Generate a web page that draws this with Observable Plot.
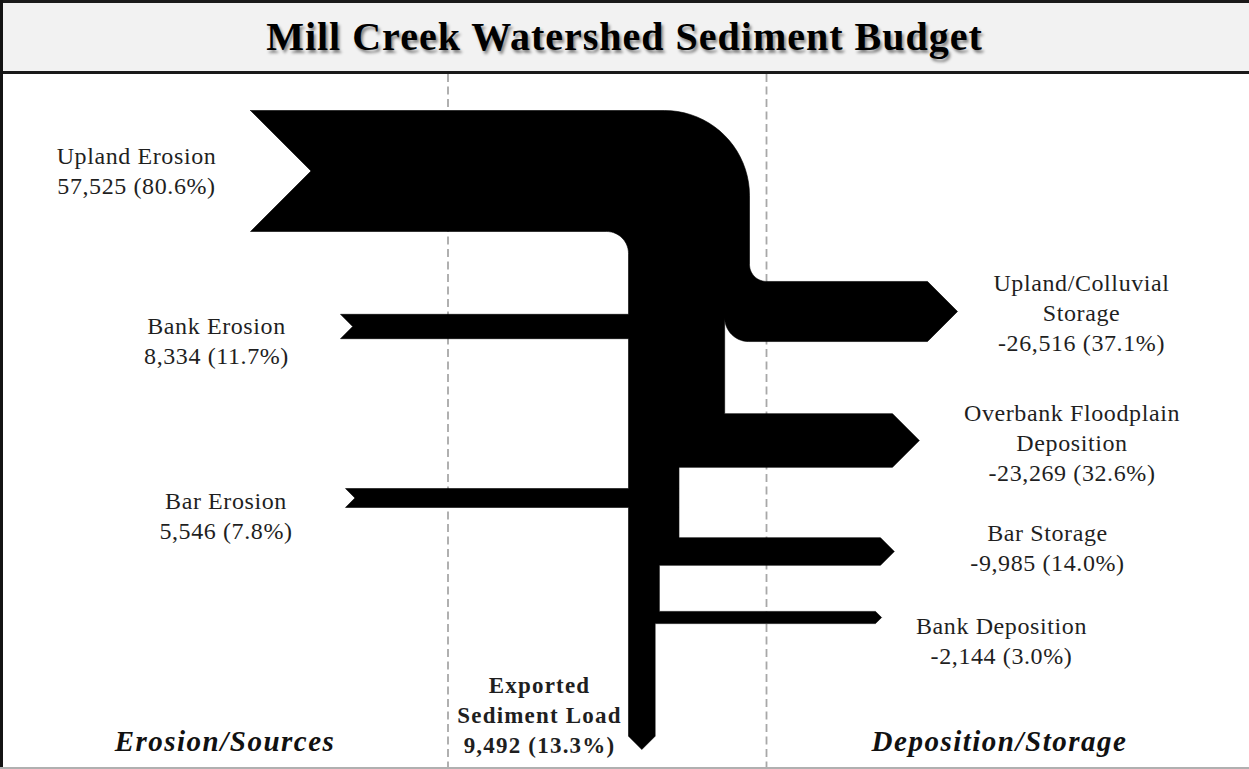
<!DOCTYPE html>
<html>
<head>
<meta charset="utf-8">
<script src="https://cdn.jsdelivr.net/npm/d3@7"></script>
<script src="https://cdn.jsdelivr.net/npm/@observablehq/plot@0.6"></script>
<style>
  html, body { margin: 0; padding: 0; background: #fff; }
  #page { position: relative; width: 1249px; height: 769px; overflow: hidden;
          font-family: "Liberation Serif", "Times New Roman", serif; }
  #title { box-sizing: border-box; height: 74px; border-top: 3px solid #1a1a1a; border-bottom: 3px solid #1a1a1a;
           background: #f2f2f2; text-align: center; line-height: 68px; font-size: 40px; font-weight: bold;
           letter-spacing: 1px; color: #000; white-space: nowrap;
           text-shadow: 2px 3px 3px rgba(0,0,0,0.45); }
  #chart svg { display: block; }
  #leftEdge { position: absolute; left: 0; top: 0; width: 3px; height: 769px; background: #141414; }
  #bottomEdge { position: absolute; left: 0; top: 767px; width: 1249px; height: 2px; background: #b0b0b0; }
</style>
</head>
<body>
<div id="page">
  <div id="title"></div>
  <div id="chart"></div>
  <div id="leftEdge"></div>
  <div id="bottomEdge"></div>
</div>
<script>
// ---------------- data ----------------
const chartTitle = "Mill Creek Watershed Sediment Budget";
const sourceNames = ["Upland Erosion", "Bank Erosion", "Bar Erosion"];
const sourceValues = [57525, 8334, 5546];
const sourceShares = ["80.6%", "11.7%", "7.8%"];
const sinkNames = ["Upland/Colluvial\nStorage", "Overbank Floodplain\nDeposition", "Bar Storage", "Bank Deposition"];
const sinkValues = [26516, 23269, 9985, 2144];
const sinkShares = ["37.1%", "32.6%", "14.0%", "3.0%"];
const exportName = "Exported\nSediment Load";
const exportValue = 9492;
const exportShare = "13.3%";
const zoneNames = ["Erosion/Sources", "Deposition/Storage"];

// ---------------- layout (diagram geometry, page units) ----------------
const W = 1249, TOP = 74, BOTTOM = 768;
const layout = {
  trunkX: 628,
  dividers: [447.5, 766],
  sourceTailX: [250, 340, 345],
  sourceCenterY: [170.5, 326, 497.5],
  sinkEndX: [927, 892, 880, 875],
  sinkCenterY: [311, 440, 551, 617],
  exportTipY: 749,
  outerR: 85, innerR: 22, filletR: 17, sinkR: 24,
  sourceLabelX: [136, 216, 225.5], sourceLabelY: [193, 363, 538],
  sinkLabelX: [1081, 1071.5, 1047, 1001], sinkLabelY: [350, 480, 570, 663],
  exportLabelX: 539, exportLabelY: 752,
  zoneLabelX: [224.5, 999], zoneLabelY: 750
};

document.getElementById("title").textContent = chartTitle;

// flow thickness scale (with a minimum visible thickness)
const thick = d3.scaleLinear([0, d3.max(sourceValues)], [8, 121]);
const sw = sourceValues.map(thick);
const kw = sinkValues.map(thick);
const ew = thick(exportValue);
const TX = layout.trunkX;
// trunk right edge below each sink: carries the export plus the sinks further down
const trunkAfter = sinkValues.map((v, i) => TX + thick(exportValue + d3.sum(sinkValues.slice(i + 1))));
const R0 = TX + sw[0];

const deg = Math.PI / 180;
function arc(cx, cy, r, a0, a1, n = 20) {
  return d3.range(n + 1).map(i => {
    const a = (a0 + (a1 - a0) * i / n) * deg;
    return {x: cx + r * Math.cos(a), y: cy + r * Math.sin(a)};
  });
}
const P = (x, y) => ({x, y});

const sTop = sourceValues.map((v, i) => layout.sourceCenterY[i] - sw[i] / 2);
const sBot = sourceValues.map((v, i) => layout.sourceCenterY[i] + sw[i] / 2);
const kTop = sinkValues.map((v, i) => layout.sinkCenterY[i] - kw[i] / 2);
const kBot = sinkValues.map((v, i) => layout.sinkCenterY[i] + kw[i] / 2);

const shape = [];
// upland band, outer turn down into the trunk
shape.push(P(layout.sourceTailX[0], sTop[0]));
shape.push(...arc(R0 - layout.outerR, sTop[0] + layout.outerR, layout.outerR, -90, 0));
// fillet into the first sink
shape.push(...arc(R0 + layout.filletR, kTop[0] - layout.filletR, layout.filletR, 180, 90));
// sinks on the right
kw.forEach((wk, i) => {
  const end = layout.sinkEndX[i], cy = layout.sinkCenterY[i];
  if (i > 0) shape.push(P(trunkAfter[i - 1], kTop[i]));
  shape.push(P(end, kTop[i]), P(end + wk / 2, cy), P(end, kBot[i]));
  if (i === 0) {
    const r = layout.sinkR;
    shape.push(...arc(trunkAfter[0] + r, kBot[0] - r, r, 90, 180));
  } else {
    shape.push(P(trunkAfter[i], kBot[i]));
  }
});
// exported load arrow
const eStart = layout.exportTipY - ew / 2;
shape.push(P(trunkAfter[trunkAfter.length - 1], eStart), P(TX + ew / 2, layout.exportTipY), P(TX, eStart));
// smaller sources joining from the left (bottom-up)
for (let i = sourceValues.length - 1; i >= 1; i--) {
  const tail = layout.sourceTailX[i], cy = layout.sourceCenterY[i];
  shape.push(P(TX, sBot[i]), P(tail, sBot[i]), P(tail + sw[i] / 2, cy), P(tail, sTop[i]), P(TX, sTop[i]));
}
// inner turn of the upland band
shape.push(...arc(TX - layout.innerR, sBot[0] + layout.innerR, layout.innerR, 0, -90));
shape.push(P(layout.sourceTailX[0], sBot[0]), P(layout.sourceTailX[0] + sw[0] / 2, layout.sourceCenterY[0]));
shape.push(P(layout.sourceTailX[0], sTop[0]));

// labels
const fmt = d3.format(",");
const sourceLabels = sourceNames.map((n, i) => ({
  x: layout.sourceLabelX[i], y: layout.sourceLabelY[i],
  text: `${n}\n${fmt(sourceValues[i])} (${sourceShares[i]})`
}));
const sinkLabels = sinkNames.map((n, i) => ({
  x: layout.sinkLabelX[i], y: layout.sinkLabelY[i],
  text: `${n}\n-${fmt(sinkValues[i])} (${sinkShares[i]})`
}));
const exportLabels = [{x: layout.exportLabelX, y: layout.exportLabelY,
  text: `${exportName}\n${fmt(exportValue)} (${exportShare})`}];
const zoneLabels = zoneNames.map((n, i) => ({x: layout.zoneLabelX[i], y: layout.zoneLabelY, text: n}));

const plot = Plot.plot({
  width: W,
  height: BOTTOM - TOP,
  margin: 0,
  x: {domain: [0, W], range: [0, W], axis: null},
  y: {domain: [TOP, BOTTOM], range: [0, BOTTOM - TOP], axis: null},
  style: {fontFamily: "'Liberation Serif','Times New Roman',serif", background: "white", color: "#1f1f1f"},
  marks: [
    Plot.ruleX(layout.dividers, {stroke: "#a8a8a8", strokeWidth: 1.8, strokeDasharray: "8,4.5"}),
    Plot.line(shape, {x: "x", y: "y", fill: "black", stroke: "black", strokeWidth: 0.6, strokeLinejoin: "miter"}),
    Plot.text(sourceLabels, {x: "x", y: "y", text: "text", fontSize: 24, lineAnchor: "bottom", lineHeight: 1.25, fill: "#1f1f1f"}),
    Plot.text(sinkLabels, {x: "x", y: "y", text: "text", fontSize: 24, lineAnchor: "bottom", lineHeight: 1.25, fill: "#1f1f1f"}),
    Plot.text(exportLabels, {x: "x", y: "y", text: "text", fontSize: 23, fontWeight: "bold", lineAnchor: "bottom", lineHeight: 1.3, fill: "#1f1f1f"}),
    Plot.text(zoneLabels, {x: "x", y: "y", text: "text", fontSize: 29, fontWeight: "bold", fontStyle: "italic", lineAnchor: "bottom", fill: "#111"})
  ]
});

d3.select(plot).selectAll('g[aria-label="text"]').each(function () {
  const fs = +this.getAttribute("font-size");
  this.setAttribute("letter-spacing", fs === 24 ? "0.6px" : fs === 23 ? "1.2px" : "1.5px");
});

document.getElementById("chart").appendChild(plot);
</script>
</body>
</html>
